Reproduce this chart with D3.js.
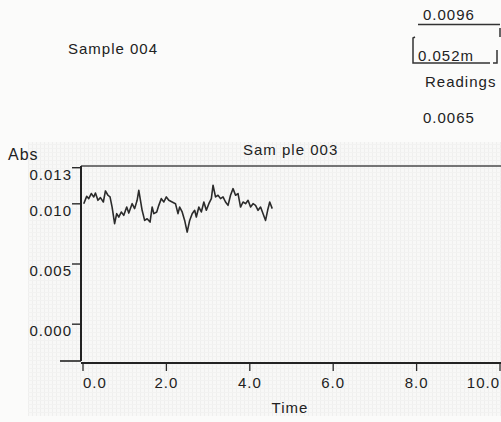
<!DOCTYPE html>
<html>
<head>
<meta charset="utf-8">
<script src="https://cdn.jsdelivr.net/npm/d3@7/dist/d3.min.js"></script>
<style>
  html, body { margin: 0; padding: 0; background: #fbfbfa; }
  svg { display: block; }
  text { font-family: "Liberation Sans", Arial, sans-serif; fill: #222; letter-spacing: 1px; }
</style>
</head>
<body>
<svg id="chart" width="501" height="422"></svg>
<script>
// ---- data ----
const times = [0.03,0.10,0.15,0.21,0.27,0.31,0.37,0.43,0.50,0.55,
  0.61,0.66,0.71,0.77,0.82,0.87,0.93,0.99,1.06,1.11,
  1.19,1.25,1.31,1.35,1.39,1.43,1.49,1.55,1.62,1.67,
  1.71,1.78,1.83,1.89,1.95,2.01,2.07,2.15,2.23,2.29,
  2.33,2.39,2.45,2.51,2.57,2.63,2.69,2.73,2.79,2.85,
  2.91,2.97,3.03,3.09,3.13,3.19,3.25,3.31,3.37,3.43,
  3.49,3.55,3.61,3.67,3.73,3.79,3.85,3.91,3.97,4.03,
  4.09,4.15,4.21,4.27,4.33,4.39,4.44,4.49,4.55];
const absValues = [0.00997,0.01058,0.01039,0.01081,0.01053,0.01086,0.01025,0.01047,0.01011,0.01103,
  0.01067,0.01053,0.00969,0.00831,0.00914,0.00886,0.00928,0.00900,0.00969,0.00919,
  0.00997,0.00956,0.01025,0.01108,0.01025,0.00942,0.00858,0.00872,0.00844,0.00969,
  0.00914,0.00928,0.00983,0.01039,0.01011,0.01053,0.01025,0.01011,0.00997,0.00914,
  0.00969,0.00928,0.00858,0.00761,0.00858,0.00914,0.00942,0.00886,0.00969,0.00928,
  0.01011,0.00942,0.00997,0.01039,0.01150,0.01053,0.01067,0.01039,0.01053,0.01011,
  0.00983,0.01067,0.01122,0.01067,0.01081,0.00969,0.01011,0.00997,0.01025,0.00969,
  0.00997,0.00983,0.00942,0.00969,0.00914,0.00858,0.00942,0.01011,0.00956];
const xTicks = [0, 2, 4, 6, 8, 10];
const yTicks = [0.000, 0.005, 0.010, 0.013];
const xDomain = [0, 10];
const yDomain = [-0.0031, 0.0131];
const topLabels = { upper: "0.0096", boxed: "0.052m", readings: "Readings", lower: "0.0065" };
const sampleTop = "Sample 004";
const chartTitle = "Sam ple 003";
const yTitle = "Abs";
const xTitle = "Time";

// ---- layout ----
const svg = d3.select("#chart");
const plotL = 81, plotR = 501, plotT = 166, plotB = 361;
const x = d3.scaleLinear().domain(xDomain).range([82.5, 499.5]);
const y = d3.scaleLinear().domain(yDomain).range([plotB, plotT]);

// textured panel background (scanned dotted look)
const defs = svg.append("defs");
const pat = defs.append("pattern").attr("id", "dots").attr("width", 4).attr("height", 4)
  .attr("patternUnits", "userSpaceOnUse");
pat.append("rect").attr("width", 4).attr("height", 4).attr("fill", "#f8f8f7");
pat.append("rect").attr("x", 0).attr("y", 0).attr("width", 1).attr("height", 4).attr("fill", "#efefee");
pat.append("rect").attr("x", 0).attr("y", 0).attr("width", 4).attr("height", 1).attr("fill", "#f2f2f1");
svg.append("rect").attr("x", 28).attr("y", 142).attr("width", 473).attr("height", 274).attr("fill", "url(#dots)");

// plot top border
svg.append("line").attr("x1", plotL).attr("x2", plotR).attr("y1", plotT).attr("y2", plotT)
  .attr("stroke", "#4a4a4a").attr("stroke-width", 1.6);

// y axis
const yAxis = svg.append("g").attr("transform", `translate(${plotL},0)`)
  .call(d3.axisLeft(y).tickValues(yTicks).tickFormat(d3.format(".3f")).tickSize(9).tickPadding(0));
yAxis.select(".domain").remove();
yAxis.selectAll(".tick line").attr("stroke", "#2a2a2a").attr("stroke-width", 1.4);
yAxis.selectAll(".tick text").attr("dy", "0.8em").style("font-size", "15px").attr("fill", "#222");
svg.append("line").attr("x1", plotL).attr("x2", plotL).attr("y1", plotT).attr("y2", plotB)
  .attr("stroke", "#222").attr("stroke-width", 2);
svg.append("line").attr("x1", 60).attr("x2", plotL).attr("y1", y(yDomain[0])).attr("y2", y(yDomain[0]))
  .attr("stroke", "#222").attr("stroke-width", 1.6);

// x axis
const xAxisY = 363;
const xAxis = svg.append("g").attr("transform", `translate(0,${xAxisY})`)
  .call(d3.axisBottom(x).tickValues(xTicks).tickFormat(d3.format(".1f")).tickSize(8).tickPadding(6));
xAxis.select(".domain").remove();
xAxis.selectAll(".tick line").attr("stroke", "#2a2a2a").attr("stroke-width", 1.3);
xAxis.selectAll(".tick text").style("font-size", "15px").attr("fill", "#222")
  .attr("text-anchor", (d, i) => i === 0 ? "start" : (i === xTicks.length - 1 ? "end" : "middle"));
svg.append("line").attr("x1", plotL).attr("x2", plotR).attr("y1", xAxisY).attr("y2", xAxisY)
  .attr("stroke", "#222").attr("stroke-width", 2.2);

// data line
svg.append("path")
  .datum(times.map((t, i) => [t, absValues[i]]))
  .attr("fill", "none").attr("stroke", "#2b2b2b").attr("stroke-width", 1.6)
  .attr("stroke-linejoin", "round")
  .attr("d", d3.line().x(d => x(d[0])).y(d => y(d[1])));

// titles
svg.append("text").attr("x", 8).attr("y", 160).style("font-size", "16px").text(yTitle);
svg.append("text").attr("x", 243).attr("y", 155).style("font-size", "15px").text(chartTitle);
svg.append("text").attr("x", 290).attr("y", 413).attr("text-anchor", "middle").style("font-size", "15px").text(xTitle);

// top annotations
svg.append("text").attr("x", 68).attr("y", 54).style("font-size", "15px").text(sampleTop);
svg.append("text").attr("x", 423).attr("y", 20).style("font-size", "15px").text(topLabels.upper);
svg.append("text").attr("x", 418).attr("y", 61).style("font-size", "15px").text(topLabels.boxed);
svg.append("text").attr("x", 425).attr("y", 87).style("font-size", "15px").text(topLabels.readings);
svg.append("text").attr("x", 423).attr("y", 123).style("font-size", "15px").text(topLabels.lower);

const boxStroke = { stroke: "#333", "stroke-width": 1.5, fill: "none" };
function seg(d) { const p = svg.append("path").attr("d", d); Object.entries(boxStroke).forEach(([k, v]) => p.attr(k, v)); }
seg("M418,24.5 L500,24.5");
seg("M500,28 L500,37");
seg("M415,37 L413,38 L413,63 L490,63");
seg("M497,50 L497,63 L493,63");
</script>
</body>
</html>
